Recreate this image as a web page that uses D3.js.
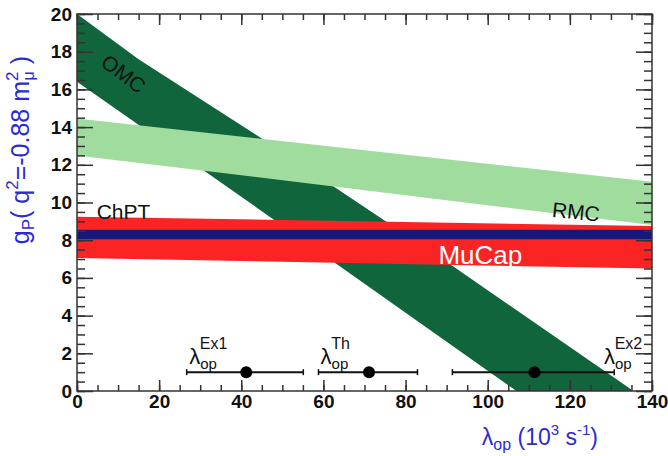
<!DOCTYPE html>
<html>
<head>
<meta charset="utf-8">
<script src="https://cdn.jsdelivr.net/npm/d3@7"></script>
<style>
  body { margin: 0; background: #fff; }
  svg { font-family: "Liberation Sans", Arial, sans-serif; }
  .tick text { font-weight: bold; font-size: 19px; fill: #111; }
  .domain { display: none; }
  .tick line { stroke: #333; stroke-width: 1.5; }
</style>
</head>
<body>
<svg id="chart" width="668" height="456"></svg>
<script>
// band edges, [lambda_op, g_P]
var omcUpper = [[0, 20], [15, 17.6], [45, 13.4], [92, 6.55], [135.5, 0]];
var omcLower = [[0, 16.4], [42, 10.0], [107, 0]];
var rmcUpper = [[0, 14.45], [140, 11.1]];
var rmcLower = [[0, 12.5], [140, 8.8]];
var mucapUpper = [[0, 9.25], [140, 8.75]];
var mucapLower = [[0, 7.05], [140, 6.5]];
var chptBand = [8.05, 8.55];

// lambda_op determinations: central value and error range
var lamNames = ["Ex1", "Th", "Ex2"];
var lamValues = [41.2, 71.1, 111.4];
var lamLow = [26.7, 58.8, 91.4];
var lamHigh = [55.1, 82.9, 130.8];
var lamY = 1.0;

var xTicks = [0, 20, 40, 60, 80, 100, 120, 140];
var yTicks = [0, 2, 4, 6, 8, 10, 12, 14, 16, 18, 20];

var svg = d3.select("#chart");
var x = d3.scaleLinear().domain([0, 140]).range([77, 652]);
var y = d3.scaleLinear().domain([0, 20]).range([391, 14]);

var bandPath = function(upper, lower) {
  var pts = upper.concat(lower.slice().reverse());
  return d3.line().x(function(d) { return x(d[0]); }).y(function(d) { return y(d[1]); })(pts) + "Z";
};

var plot = svg.append("g");

// OMC first, RMC and MuCap drawn over it
plot.append("path")
  .attr("d", bandPath(omcUpper, omcLower))
  .attr("fill", "#11653d");

plot.append("path")
  .attr("d", bandPath(rmcUpper, rmcLower))
  .attr("fill", "#a1dc9f");

plot.append("path")
  .attr("d", bandPath(mucapUpper, mucapLower))
  .attr("fill", "#fa2424");

plot.append("rect")
  .attr("x", x(0)).attr("width", x(140) - x(0))
  .attr("y", y(chptBand[1])).attr("height", y(chptBand[0]) - y(chptBand[1]))
  .attr("fill", "#17177a");

// band labels
plot.append("text")
  .attr("transform", "translate(" + x(5.5) + "," + y(17.3) + ") rotate(37)")
  .attr("font-size", 21).attr("fill", "#111").text("OMC");
plot.append("text")
  .attr("transform", "translate(" + x(115.5) + "," + y(9.25) + ") rotate(6)")
  .attr("font-size", 21).attr("fill", "#111").text("RMC");
plot.append("text")
  .attr("x", x(4.8)).attr("y", y(9.15))
  .attr("font-size", 21).attr("fill", "#111").text("ChPT");
plot.append("text")
  .attr("x", x(88)).attr("y", y(6.75))
  .attr("font-size", 26).attr("fill", "#fff").text("MuCap");

// lambda_op points with error bars
lamNames.forEach(function(name, i) {
  plot.append("line")
    .attr("x1", x(lamLow[i])).attr("x2", x(lamHigh[i]))
    .attr("y1", y(lamY)).attr("y2", y(lamY))
    .attr("stroke", "#111").attr("stroke-width", 2);
  [lamLow[i], lamHigh[i]].forEach(function(v) {
    plot.append("line")
      .attr("x1", x(v)).attr("x2", x(v))
      .attr("y1", y(lamY) - 3).attr("y2", y(lamY) + 3)
      .attr("stroke", "#111").attr("stroke-width", 1.5);
  });
  plot.append("circle")
    .attr("cx", x(lamValues[i])).attr("cy", y(lamY)).attr("r", 6)
    .attr("fill", "#000");
});

var lamLabel = function(px, py, sup) {
  var t = plot.append("text").attr("x", px).attr("y", py).attr("fill", "#111").attr("font-size", 22);
  t.append("tspan").text("λ");
  t.append("tspan").attr("font-size", 15).attr("dy", 5).text("op");
  t.append("tspan").attr("font-size", 16).attr("dx", -17).attr("dy", -20).text(sup);
};
lamLabel(x(27.3), y(1.45), lamNames[0]);
lamLabel(x(59.3), y(1.45), lamNames[1]);
lamLabel(x(128.3), y(1.45), lamNames[2]);

// frame
svg.append("rect")
  .attr("x", x(0)).attr("y", y(20))
  .attr("width", x(140) - x(0)).attr("height", y(0) - y(20))
  .attr("fill", "none").attr("stroke", "#333").attr("stroke-width", 1.5);

// axes: major + minor ticks on all four sides, pointing inward
var minorX = d3.range(0, 140.01, 5);
var minorY = d3.range(0, 20.01, 0.5);

svg.append("g").attr("transform", "translate(0," + y(0) + ")")
  .call(d3.axisBottom(x).tickValues(xTicks).tickSize(-11).tickPadding(4).tickFormat(d3.format("d")));
svg.append("g").attr("transform", "translate(0," + y(0) + ")")
  .call(d3.axisBottom(x).tickValues(minorX).tickSize(-6).tickFormat(""));
svg.append("g").attr("transform", "translate(0," + y(20) + ")")
  .call(d3.axisTop(x).tickValues(xTicks).tickSize(-11).tickFormat(""));
svg.append("g").attr("transform", "translate(0," + y(20) + ")")
  .call(d3.axisTop(x).tickValues(minorX).tickSize(-6).tickFormat(""));

svg.append("g").attr("transform", "translate(" + x(0) + ",0)")
  .call(d3.axisLeft(y).tickValues(yTicks).tickSize(-16).tickPadding(5).tickFormat(d3.format("d")));
svg.append("g").attr("transform", "translate(" + x(0) + ",0)")
  .call(d3.axisLeft(y).tickValues(minorY).tickSize(-8).tickFormat(""));
svg.append("g").attr("transform", "translate(" + x(140) + ",0)")
  .call(d3.axisRight(y).tickValues(yTicks).tickSize(-16).tickFormat(""));
svg.append("g").attr("transform", "translate(" + x(140) + ",0)")
  .call(d3.axisRight(y).tickValues(minorY).tickSize(-8).tickFormat(""));

// axis titles
var xt = svg.append("text").attr("x", 598).attr("y", 445)
  .attr("text-anchor", "end").attr("fill", "#2b2bd6").attr("font-size", 23);
xt.append("tspan").text("λ");
xt.append("tspan").attr("font-size", 16).attr("dy", 5).text("op");
xt.append("tspan").attr("dy", -5).text(" (10");
xt.append("tspan").attr("font-size", 15).attr("dy", -10).text("3");
xt.append("tspan").attr("dy", 10).text(" s");
xt.append("tspan").attr("font-size", 15).attr("dy", -10).text("-1");
xt.append("tspan").attr("dy", 10).text(")");

var yt = svg.append("text")
  .attr("transform", "translate(29,56) rotate(-90)")
  .attr("text-anchor", "end").attr("fill", "#2b2bd6").attr("font-size", 25);
yt.append("tspan").text("g");
yt.append("tspan").attr("font-size", 17).attr("dy", 5).text("P");
yt.append("tspan").attr("dy", -5).text("( q");
yt.append("tspan").attr("font-size", 17).attr("dy", -11).text("2");
yt.append("tspan").attr("dy", 11).text("=-0.88 m");
yt.append("tspan").attr("font-size", 17).attr("dy", -11).text("2");
yt.append("tspan").attr("font-size", 16).attr("dx", -9).attr("dy", 16).text("μ");
yt.append("tspan").attr("dy", -5).text(" )");
</script>
</body>
</html>
